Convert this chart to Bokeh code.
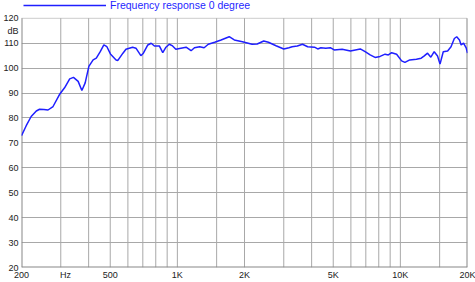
from bokeh.plotting import figure
from bokeh.models import FixedTicker, Legend, LegendItem, Range1d
from bokeh.embed import file_html
from bokeh.resources import INLINE

# Frequency response data (Hz, dB)
freq = [200, 210, 221, 233, 241, 252, 263, 277, 296, 312, 329, 342, 359, 373, 386,
        401, 419, 433, 451, 468, 483, 501, 531, 541, 570, 588, 630, 652, 686, 704,
        737, 763, 789, 830, 860, 889, 920, 952, 984, 1037, 1094, 1152, 1193, 1259,
        1318, 1376, 1470, 1570, 1708, 1800, 1957, 2163, 2280, 2440, 2560, 2770, 3000,
        3165, 3270, 3450, 3640, 3840, 4120, 4260, 4400, 4630, 4850, 5050, 5480, 5970,
        6610, 6950, 7320, 7700, 8110, 8540, 8830, 9140, 9620, 10130, 10480, 11020,
        11800, 12400, 12800, 13240, 13700, 14180, 14680, 15060, 15570, 16290, 16870,
        17460, 17890, 18410, 18730, 19200, 19750, 20000]
spl = [72.9, 76.9, 80.6, 82.8, 83.5, 83.4, 83.2, 84.6, 89.4, 92.1, 95.7, 96.3, 94.7, 91.0, 94.1,
       100.7, 103.3, 104.0, 106.6, 109.3, 108.6, 105.7, 103.3, 103.1, 106.0, 107.6, 108.4, 108.0, 105.0, 106.0,
       109.3, 110.0, 108.9, 108.9, 106.2, 108.4, 109.6, 108.9, 107.6, 108.0, 108.4, 107.0, 108.2, 108.6,
       108.2, 109.6, 110.4, 111.3, 112.6, 111.3, 110.6, 109.6, 109.7, 110.9, 110.4, 109.0, 107.7,
       108.2, 108.6, 108.9, 109.6, 108.6, 108.4, 107.7, 108.2, 108.0, 108.2, 107.3, 107.6, 106.9,
       107.7, 106.6, 105.3, 104.3, 104.7, 105.6, 105.3, 106.2, 105.6, 102.9, 102.3, 103.3,
       103.6, 104.0, 104.9, 106.0, 104.4, 106.6, 104.9, 101.6, 106.6, 106.9, 108.6,
       111.9, 112.6, 111.3, 109.3, 110.0, 108.0, 106.0]

series_label = "Frequency response 0 degree"

x_min, x_max = 200, 20000
y_min, y_max = 20, 120
x_ticks = [200, 315, 500, 1000, 2000, 5000, 10000, 20000]
x_tick_labels = ["200", "Hz", "500", "1K", "2K", "5K", "10K", "20K"]
x_grid = [300, 400, 500, 600, 700, 800, 900, 1000, 1500, 2000, 3000, 4000, 5000,
          6000, 7000, 8000, 9000, 10000, 15000]
y_ticks = [20, 30, 40, 50, 60, 70, 80, 90, 100, 110, 115, 120]
y_tick_labels = ["20", "30", "40", "50", "60", "70", "80", "90", "100", "110", "dB", "120"]
y_grid = [30, 40, 50, 60, 70, 80, 90, 100, 110]

FONT = "Liberation Sans"
BLUE = "#1f1fff"
GRID = "#a8a8a8"
FRAME = "#888888"

# frame: 447 px wide, 270 px tall; 120 dB sits 18 px below the top (legend strip)
px_per_db = 2.52
y_top = y_max + 18 / px_per_db

p = figure(width=475, height=282, x_axis_type="log", output_backend="svg",
           toolbar_location=None, min_border_left=20, min_border_right=8,
           min_border_top=0, min_border_bottom=12,
           x_range=Range1d(x_min, x_max), y_range=Range1d(y_min, y_top))

p.outline_line_color = None
p.background_fill_color = "white"
p.border_fill_color = "white"

# grid
p.xgrid.visible = False
p.ygrid.ticker = FixedTicker(ticks=y_grid)
p.ygrid.grid_line_color = GRID
p.ygrid.grid_line_width = 1
p.segment(x0=x_grid, y0=[y_min] * len(x_grid), x1=x_grid, y1=[y_max] * len(x_grid),
          line_color=GRID, line_width=1)

# frame border (edges at the canvas frame are half clipped, so wider)
p.segment(x0=[x_min, x_max, x_min], y0=[y_min, y_min, y_min],
          x1=[x_min, x_max, x_max], y1=[y_max, y_max, y_min],
          line_color=FRAME, line_width=2)
p.segment(x0=[x_min], y0=[y_max], x1=[x_max], y1=[y_max],
          line_color="#999999", line_width=1, line_dash="1 1")

r = p.line(freq, spl, line_color=BLUE, line_width=1.5)

for ax in (p.xaxis, p.yaxis):
    ax.axis_line_color = None
    ax.major_tick_line_color = None
    ax.minor_tick_line_color = None
    ax.major_tick_out = 0
    ax.major_tick_in = 0
    ax.minor_tick_out = 0
    ax.major_label_text_font = FONT
    ax.major_label_text_font_size = "9px"
    ax.major_label_text_color = "#222222"

p.xaxis.ticker = FixedTicker(ticks=x_ticks)
p.xaxis.major_label_overrides = {t: l for t, l in zip(x_ticks, x_tick_labels)}
p.xaxis.major_label_standoff = 2
p.yaxis.ticker = FixedTicker(ticks=y_ticks)
p.yaxis.major_label_overrides = {t: l for t, l in zip(y_ticks, y_tick_labels)}
p.yaxis.major_label_standoff = 3

legend = Legend(items=[LegendItem(label=series_label, renderers=[r])],
                location=(2, 256), orientation="horizontal",
                glyph_width=83, glyph_height=10, label_height=10,
                label_text_font=FONT, label_text_font_size="10.5px",
                label_text_color=BLUE, label_standoff=4,
                padding=0, margin=0, spacing=0,
                background_fill_alpha=0, border_line_alpha=0)
p.add_layout(legend)

open("out.html", "w").write(file_html(p, INLINE))
